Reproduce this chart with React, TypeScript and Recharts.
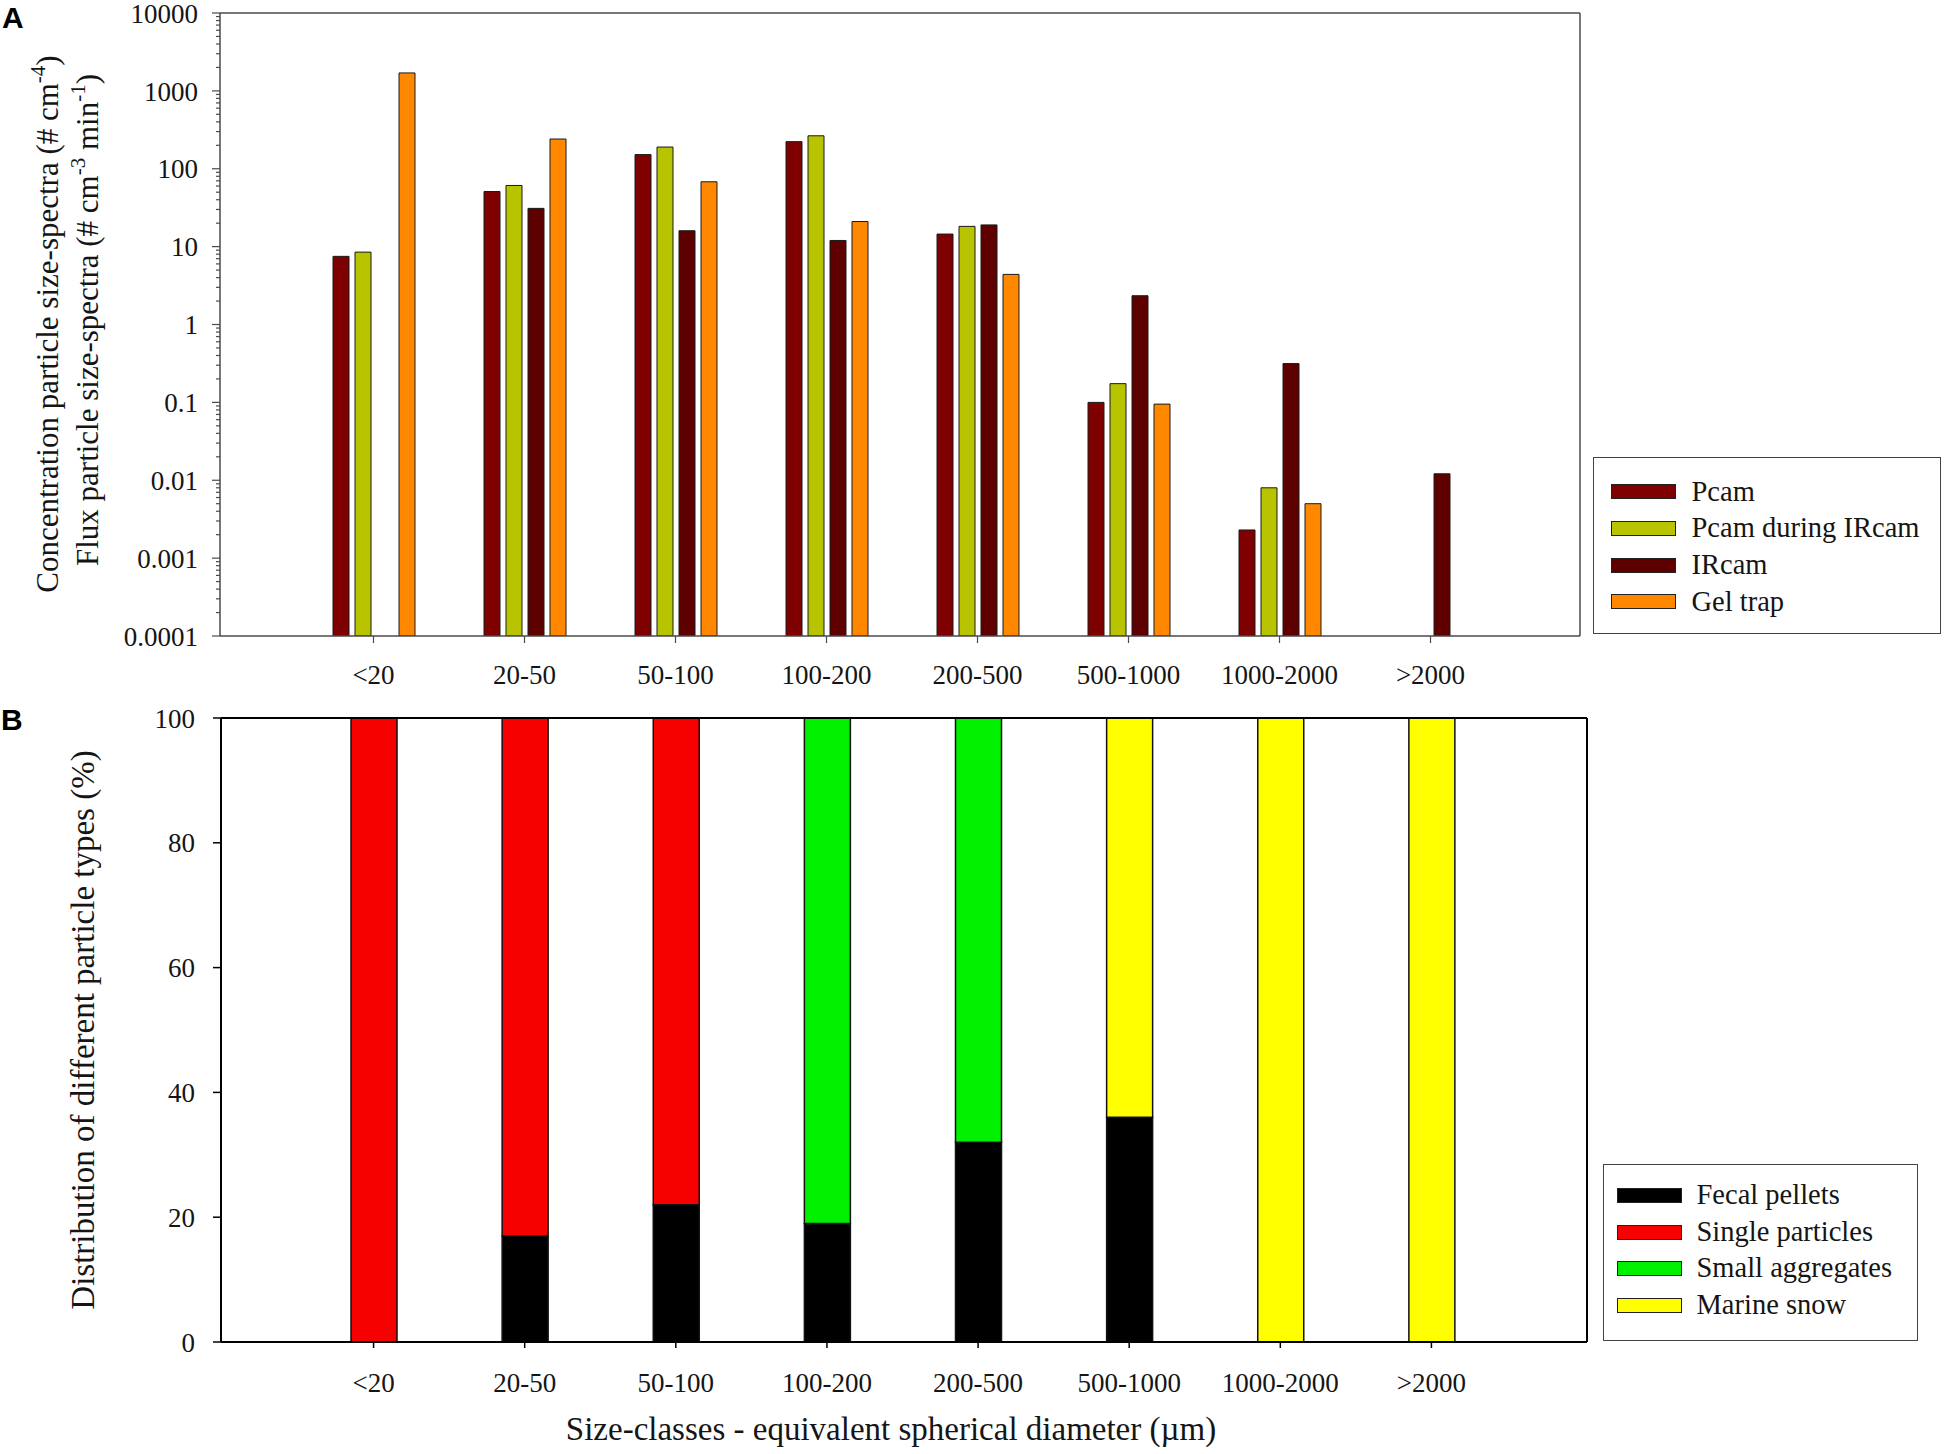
import { BarChart, Bar, XAxis, YAxis, Legend } from 'recharts';

const sizeClasses = ['<20', '20-50', '50-100', '100-200', '200-500', '500-1000', '1000-2000', '>2000'];

// panel A (log scale)
const pcam = [7.5, 51, 152, 223, 14.5, 0.1, 0.0023, null];
const pcamDuringIRcam = [8.5, 61, 190, 265, 18.2, 0.174, 0.008, null];
const irCam = [null, 31, 16, 12, 19, 2.34, 0.315, 0.0121];
const gelTrap = [1700, 241, 68, 21, 4.4, 0.095, 0.005, null];
const seriesNamesA = ['Pcam', 'Pcam during IRcam', 'IRcam', 'Gel trap'];

const logTickLabels = ['0.0001', '0.001', '0.01', '0.1', '1', '10', '100', '1000', '10000'];
const minorSteps = [2, 3, 4, 5, 6, 7, 8, 9];

// panel B (%)
const fecalPellets = [0, 17, 22, 19, 32, 36, 0, 0];
const singleParticles = [100, 83, 78, 0, 0, 0, 0, 0];
const smallAggregates = [0, 0, 0, 81, 68, 0, 0, 0];
const marineSnow = [0, 0, 0, 0, 0, 64, 100, 100];
const seriesNamesB = ['Fecal pellets', 'Single particles', 'Small aggregates', 'Marine snow'];
const percentTicks = [0, 20, 40, 60, 80, 100];

const logTicks = logTickLabels.map(Number);
const allLogTicks = [
  ...logTicks,
  ...logTicks.slice(0, -1).flatMap((d) => minorSteps.map((k) => d * k)),
];

const dataA = sizeClasses.map((sizeClass, i) => ({
  sizeClass,
  pcam: pcam[i],
  pcamDuring: pcamDuringIRcam[i],
  irCam: irCam[i],
  gelTrap: gelTrap[i],
}));

const dataB = sizeClasses.map((sizeClass, i) => ({
  sizeClass,
  fecal: fecalPellets[i],
  single: singleParticles[i],
  small: smallAggregates[i],
  snow: marineSnow[i],
}));

const serif = '"Liberation Serif", "Times New Roman", serif';
const textColor = '#151515';
const greyLine = '#4a4a4a';
const tickFont = { fontSize: 27, fill: textColor, fontFamily: serif };

function LogTick(props: any) {
  const { x, y, payload } = props;
  const i = logTicks.indexOf(payload.value);
  const major = i >= 0;
  return (
    <g>
      <line x1={x - (major ? 8 : 4)} x2={x} y1={y} y2={y} stroke={greyLine} strokeWidth={1.2} />
      {major && (
        <text x={x - 22} y={y} dy="0.36em" textAnchor="end" {...tickFont}>
          {logTickLabels[i]}
        </text>
      )}
    </g>
  );
}

function LabelA() {
  return (
    <g fontFamily={serif} fontSize={31} fill={textColor}>
      <text transform="translate(58,324) rotate(-90)" textAnchor="middle">
        Concentration particle size-spectra (# cm
        <tspan dy={-13} fontSize={21}>-4</tspan>
        <tspan dy={13}>)</tspan>
      </text>
      <text transform="translate(98,320) rotate(-90)" textAnchor="middle">
        Flux particle size-spectra (# cm
        <tspan dy={-13} fontSize={21}>-3</tspan>
        <tspan dy={13}> min</tspan>
        <tspan dy={-13} fontSize={21}>-1</tspan>
        <tspan dy={13}>)</tspan>
      </text>
    </g>
  );
}

function LabelB() {
  return (
    <text
      transform="translate(94,350) rotate(-90)"
      textAnchor="middle"
      fontFamily={serif}
      fontSize={33}
      fill={textColor}
    >
      Distribution of different particle types (%)
    </text>
  );
}

function BoxLegend({ payload, order, width, height, padTop, padLeft, gap }: any) {
  const items = order
    .map((name: string) => (payload || []).find((e: any) => e.value === name))
    .filter(Boolean);
  return (
    <div
      style={{
        boxSizing: 'border-box',
        width,
        height,
        border: '1.5px solid #444',
        background: '#fff',
        paddingTop: padTop,
        paddingLeft: padLeft,
        fontFamily: serif,
        fontSize: 28.5,
        color: textColor,
      }}
    >
      {items.map((entry: any) => (
        <div key={entry.value} style={{ display: 'flex', alignItems: 'center', height: 36.7 }}>
          <span
            style={{
              display: 'inline-block',
              boxSizing: 'border-box',
              width: 65,
              height: 15,
              background: entry.color,
              border: '1px solid #222',
              marginRight: gap,
            }}
          />
          <span style={{ lineHeight: 1, whiteSpace: 'nowrap' }}>{entry.value}</span>
        </div>
      ))}
    </div>
  );
}

const panelLetter = {
  position: 'absolute' as const,
  fontFamily: '"Liberation Sans", Arial, sans-serif',
  fontWeight: 700,
  fontSize: 30,
  lineHeight: 1,
  color: '#000',
};

export default function App() {
  return (
    <div style={{ position: 'absolute', left: 0, top: 0, width: 1950, height: 1454, background: '#fff' }}>
      <div style={{ position: 'absolute', left: 0, top: 0 }}>
        <BarChart
          width={1950}
          height={700}
          data={dataA}
          margin={{ top: 12, right: 369, bottom: 14, left: 0 }}
          barSize={16}
          barGap={6}
        >
          <XAxis
            dataKey="sizeClass"
            interval={0}
            padding={{ left: 78, right: 74 }}
            height={50}
            tickSize={7}
            tickMargin={22}
            tick={tickFont}
            tickLine={{ stroke: greyLine, strokeWidth: 1.2 }}
            axisLine={{ stroke: greyLine, strokeWidth: 1.5 }}
          />
          <XAxis xAxisId="top" orientation="top" dataKey="sizeClass" height={1} tick={false} tickLine={false} axisLine={{ stroke: greyLine, strokeWidth: 1.5 }} />
          <YAxis
            scale="log"
            type="number"
            domain={[0.0001, 10000]}
            allowDataOverflow
            ticks={allLogTicks}
            interval={0}
            width={220}
            tickSize={0}
            tickMargin={0}
            tickLine={false}
            tick={(p: any) => <LogTick {...p} />}
            axisLine={{ stroke: greyLine, strokeWidth: 1.5 }}
            label={<LabelA />}
          />
          <YAxis yAxisId="right" orientation="right" width={1} tick={false} tickLine={false} axisLine={{ stroke: greyLine, strokeWidth: 1.5 }} />
          <Legend
            layout="vertical"
            align="center"
            verticalAlign="middle"
            wrapperStyle={{ left: 1593, top: 457, width: 348, height: 177 }}
            content={(p: any) => (
              <BoxLegend payload={p.payload} order={seriesNamesA} width={348} height={177} padTop={15.5} padLeft={16.5} gap={16} />
            )}
          />
          <Bar dataKey="pcam" name={seriesNamesA[0]} fill="#7e0000" stroke="#1a1a1a" strokeWidth={1} isAnimationActive={false} />
          <Bar dataKey="pcamDuring" name={seriesNamesA[1]} fill="#b8c400" stroke="#1a1a1a" strokeWidth={1} isAnimationActive={false} />
          <Bar dataKey="irCam" name={seriesNamesA[2]} fill="#5e0000" stroke="#1a1a1a" strokeWidth={1} isAnimationActive={false} />
          <Bar dataKey="gelTrap" name={seriesNamesA[3]} fill="#ff8800" stroke="#1a1a1a" strokeWidth={1} isAnimationActive={false} />
        </BarChart>
      </div>

      <div style={{ position: 'absolute', left: 0, top: 680 }}>
        <BarChart
          width={1950}
          height={774}
          data={dataB}
          margin={{ top: 37, right: 362, bottom: 0, left: 0 }}
          barSize={46}
        >
          <XAxis
            dataKey="sizeClass"
            interval={0}
            padding={{ left: 77, right: 80 }}
            height={112}
            tickSize={6}
            tickMargin={25}
            tick={tickFont}
            tickLine={{ stroke: '#000', strokeWidth: 1.5 }}
            axisLine={{ stroke: '#000', strokeWidth: 2 }}
            label={{
              value: 'Size-classes - equivalent spherical diameter (\u00b5m)',
              position: 'insideBottom',
              offset: 14,
              dx: -13,
              fontSize: 33,
              fontFamily: serif,
              fill: textColor,
            }}
          />
          <XAxis xAxisId="top" orientation="top" dataKey="sizeClass" height={1} tick={false} tickLine={false} axisLine={{ stroke: '#000', strokeWidth: 2 }} />
          <YAxis
            type="number"
            domain={[0, 100]}
            ticks={percentTicks}
            interval={0}
            width={221}
            tickSize={8}
            tickMargin={18}
            tick={tickFont}
            tickLine={{ stroke: '#000', strokeWidth: 1.5 }}
            axisLine={{ stroke: '#000', strokeWidth: 2 }}
            label={<LabelB />}
          />
          <YAxis yAxisId="right" orientation="right" width={1} tick={false} tickLine={false} axisLine={{ stroke: '#000', strokeWidth: 2 }} />
          <Legend
            layout="vertical"
            align="center"
            verticalAlign="middle"
            wrapperStyle={{ left: 1603, top: 484, width: 315, height: 177 }}
            content={(p: any) => (
              <BoxLegend payload={p.payload} order={seriesNamesB} width={315} height={177} padTop={12} padLeft={12.5} gap={15} />
            )}
          />
          <Bar dataKey="fecal" name={seriesNamesB[0]} stackId="types" fill="#000000" stroke="#111" strokeWidth={1.5} isAnimationActive={false} />
          <Bar dataKey="single" name={seriesNamesB[1]} stackId="types" fill="#f70000" stroke="#111" strokeWidth={1.5} isAnimationActive={false} />
          <Bar dataKey="small" name={seriesNamesB[2]} stackId="types" fill="#00f000" stroke="#111" strokeWidth={1.5} isAnimationActive={false} />
          <Bar dataKey="snow" name={seriesNamesB[3]} stackId="types" fill="#ffff00" stroke="#111" strokeWidth={1.5} isAnimationActive={false} />
        </BarChart>
      </div>

      <div style={{ ...panelLetter, left: 2, top: 3 }}>A</div>
      <div style={{ ...panelLetter, left: 1, top: 705 }}>B</div>
    </div>
  );
}
